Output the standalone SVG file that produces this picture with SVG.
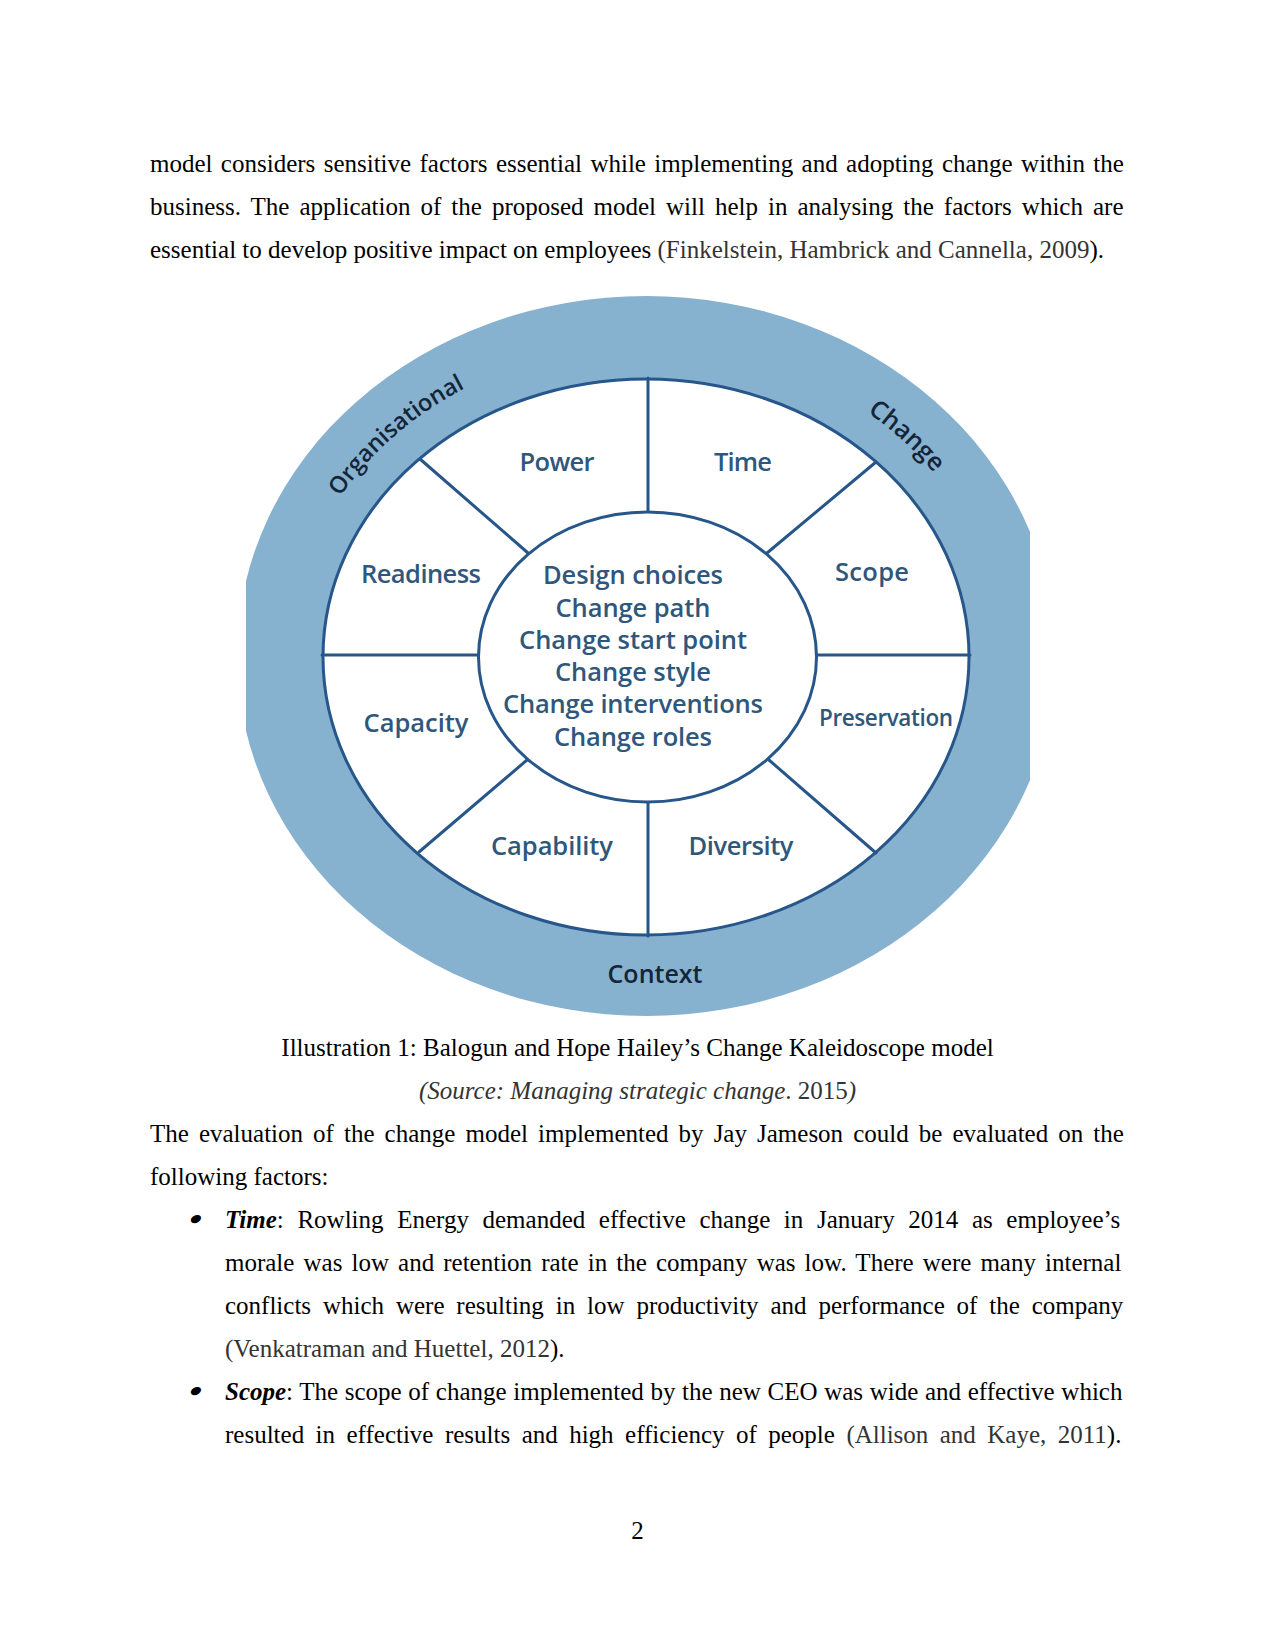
<svg xmlns="http://www.w3.org/2000/svg" width="1275" height="1650" viewBox="0 0 1275 1650">
<style>
.body{font-family:"Liberation Serif","Times New Roman",serif;font-size:25px;fill:#000;}
.cite{fill:#333;}
.lbl{font-family:"Open Sans","Noto Sans",sans-serif;font-size:25.5px;font-weight:600;fill:#2f577c;text-anchor:middle;}
.dark{font-family:"Open Sans","Noto Sans",sans-serif;font-size:25px;font-weight:600;fill:#14253a;}
.div{stroke:#26568a;stroke-width:3;stroke-linecap:round;}
.wf{fill:#fff;}
</style>
<defs>
<clipPath id="imgclip"><rect x="246" y="288" width="784" height="740"/></clipPath>
<path id="arcTop" d="M 290 656 A 356 311 0 0 1 1002 656"/>
</defs>
<rect x="0" y="0" width="1275" height="1650" fill="#fff"/>

<g id="para1" class="body">
<text x="150" y="172" word-spacing="2.13">model considers sensitive factors essential while implementing and adopting change within the</text>
<text x="150" y="215" word-spacing="3.76">business. The application of the proposed model will help in analysing the factors which are</text>
<text x="150" y="258">essential to develop positive impact on employees <tspan class="cite">(Finkelstein, Hambrick and Cannella, 2009</tspan>).</text>
</g>

<g id="kaleidoscope">
<g id="context-ring" clip-path="url(#imgclip)">
<ellipse cx="646" cy="656" rx="409" ry="360" fill="#87b2cf"/>
<ellipse cx="646" cy="657" rx="323" ry="278" class="div wf"/>
</g>
<text class="dark" style="font-size:23.5px"><textPath href="#arcTop" startOffset="253" text-anchor="middle">Organisational</textPath></text>
<text class="dark"><textPath href="#arcTop" startOffset="804" text-anchor="middle">Change</textPath></text>
<text class="dark" x="655" y="983" text-anchor="middle" textLength="95">Context</text>
</g>

<g id="dividers">
<line class="div" x1="648" y1="378" x2="648" y2="513"/>
<line class="div" x1="648" y1="801" x2="648" y2="936"/>
<line class="div" x1="322" y1="655" x2="479" y2="655"/>
<line class="div" x1="816" y1="655" x2="970" y2="655"/>
<line class="div" x1="420" y1="459" x2="528" y2="553"/>
<line class="div" x1="876" y1="462" x2="767" y2="553"/>
<line class="div" x1="419" y1="852" x2="527" y2="760"/>
<line class="div" x1="876" y1="853" x2="769" y2="760"/>
</g>

<g id="node-power"><text class="lbl" x="557" y="471" textLength="75">Power</text></g>
<g id="node-time"><text class="lbl" x="743" y="471" textLength="58">Time</text></g>
<g id="node-readiness"><text class="lbl" x="421" y="583" textLength="120">Readiness</text></g>
<g id="node-scope"><text class="lbl" x="872" y="581" textLength="74">Scope</text></g>
<g id="node-capacity"><text class="lbl" x="416" y="732" textLength="105">Capacity</text></g>
<g id="node-preservation"><text class="lbl" x="886" y="726" textLength="134" style="font-size:22.5px">Preservation</text></g>
<g id="node-capability"><text class="lbl" x="552" y="855" textLength="122">Capability</text></g>
<g id="node-diversity"><text class="lbl" x="741" y="855" textLength="105">Diversity</text></g>

<g id="node-center">
<ellipse cx="647.5" cy="657" rx="169" ry="145" class="div wf"/>
<text class="lbl" x="633" y="584" textLength="180">Design choices</text>
<text class="lbl" x="633" y="616.5" textLength="155">Change path</text>
<text class="lbl" x="633" y="649" textLength="228">Change start point</text>
<text class="lbl" x="633" y="681" textLength="156">Change style</text>
<text class="lbl" x="633" y="713" textLength="260">Change interventions</text>
<text class="lbl" x="633" y="745.5" textLength="158">Change roles</text>
</g>

<g id="caption" class="body" text-anchor="middle">
<text x="637.5" y="1056">Illustration 1: Balogun and Hope Hailey’s Change Kaleidoscope model</text>
<text x="637.5" y="1099" class="cite"><tspan font-style="italic">(Source: Managing strategic change</tspan>. 2015<tspan font-style="italic">)</tspan></text>
</g>

<g id="para2" class="body">
<text x="150" y="1142" word-spacing="3.81">The evaluation of the change model implemented by Jay Jameson could be evaluated on the</text>
<text x="150" y="1185">following factors:</text>
<text x="0" y="0" style="font-size:30px;font-weight:bold" transform="translate(186 1229) skewX(-20) scale(1.2 1)">•</text>
<text x="225" y="1228" word-spacing="7.37"><tspan font-weight="bold" font-style="italic">Time</tspan>: Rowling Energy demanded effective change in January 2014 as employee’s</text>
<text x="225" y="1271" word-spacing="2.84">morale was low and retention rate in the company was low. There were many internal</text>
<text x="225" y="1314" word-spacing="5.62">conflicts which were resulting in low productivity and performance of the company</text>
<text x="225" y="1357"><tspan class="cite">(Venkatraman and Huettel, 2012</tspan>).</text>
<text x="0" y="0" style="font-size:30px;font-weight:bold" transform="translate(186 1401) skewX(-20) scale(1.2 1)">•</text>
<text x="225" y="1400" word-spacing="0.4"><tspan font-weight="bold" font-style="italic">Scope</tspan>: The scope of change implemented by the new CEO was wide and effective which</text>
<text x="225" y="1443" word-spacing="5.2">resulted in effective results and high efficiency of people <tspan class="cite">(Allison and Kaye, 2011</tspan>).</text>
</g>

<text class="body" x="637.5" y="1539" text-anchor="middle">2</text>
</svg>
